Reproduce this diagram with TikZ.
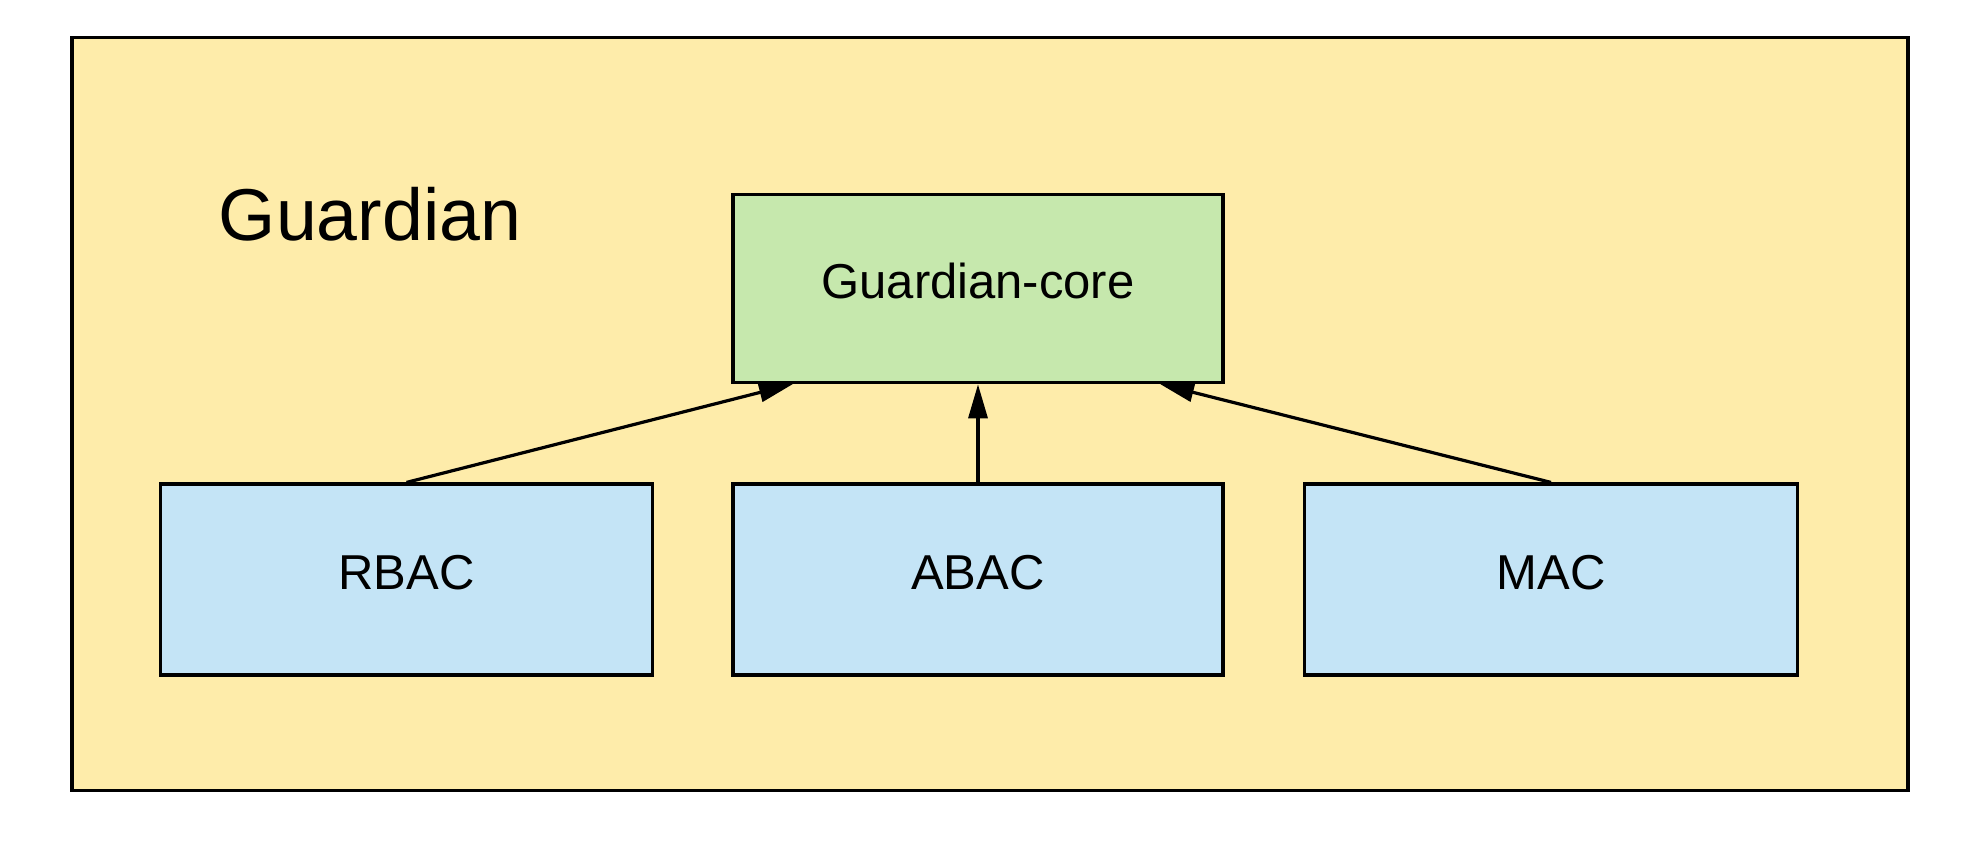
\documentclass[tikz,border=0pt]{standalone}
\usepackage{fontspec}
\setmainfont{Liberation Sans}
\usetikzlibrary{arrows.meta}
\definecolor{outerfill}{HTML}{FEECAA}
\definecolor{corefill}{HTML}{C6E8AD}
\definecolor{modfill}{HTML}{C4E4F6}
\begin{document}
\begin{tikzpicture}[x=0.5pt,y=-0.5pt,
  box/.style={draw=black,line width=1.8pt,inner sep=0pt,text height=17.5pt,text depth=7.5pt,font=\fontsize{24.5}{29}\selectfont},
  conn/.style={line width=1.6pt,-{Triangle[length=17pt,width=9.5pt]}}]
\useasboundingbox (0,0) rectangle (1967,859);
\node[draw=black,line width=1.8pt,fill=outerfill,minimum width=918pt,minimum height=376.4pt,inner sep=0pt] (outer) at (990,414) {};
\node[font=\fontsize{36.75}{44}\selectfont] (title) at (370,214) {Guardian};
\node[box,fill=corefill,minimum width=245pt,minimum height=94pt] (core) at (978,288.5) {Guardian-core};
\node[box,fill=modfill,minimum width=246pt,minimum height=95.4pt] (rbac) at (406.5,579.6) {RBAC};
\node[box,fill=modfill,minimum width=245pt,minimum height=95.4pt] (abac) at (978,579.6) {ABAC};
\node[box,fill=modfill,minimum width=246.5pt,minimum height=95.4pt] (mac) at (1551,579.6) {MAC};
\coordinate (c1) at (793,384);
\coordinate (c3) at (1160,384);
\draw[conn] (rbac.north) -- (c1);
\draw[conn] (abac.north) -- (core.south);
\draw[conn] (mac.north) -- (c3);
\end{tikzpicture}
\end{document}
